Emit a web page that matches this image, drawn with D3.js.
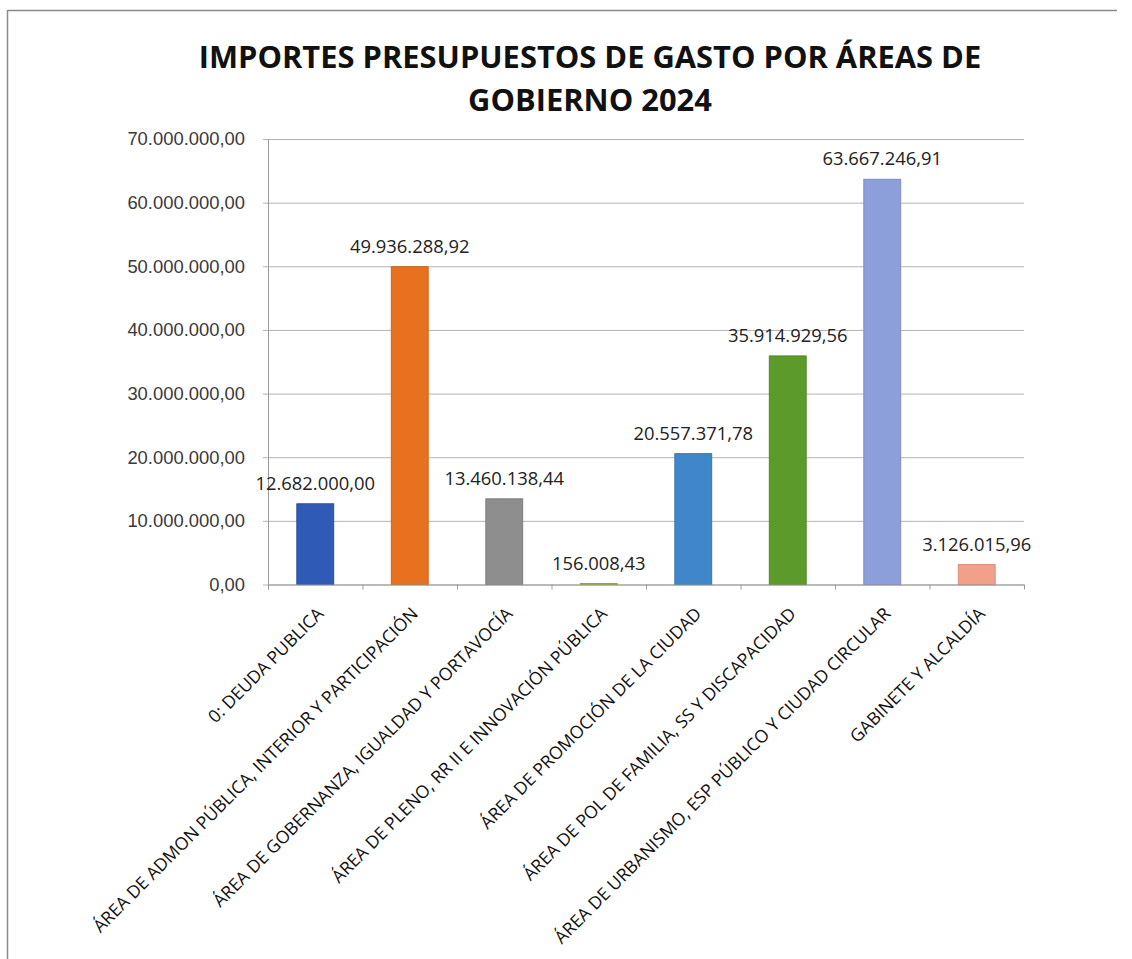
<!DOCTYPE html>
<html lang="es">
<head>
<meta charset="utf-8">
<script src="https://cdn.jsdelivr.net/npm/d3@7"></script>
<style>
  html, body { margin: 0; padding: 0; background: #fff; }
  svg { display: block; font-family: "Open Sans", "DejaVu Sans", sans-serif; }
</style>
</head>
<body>
<svg id="chart" width="1132" height="959"></svg>
<script>
// Budget by government area, 2024 (euros)
const categories = [
  "0: DEUDA PUBLICA",
  "ÁREA DE ADMON PÚBLICA, INTERIOR Y PARTICIPACIÓN",
  "ÁREA DE GOBERNANZA, IGUALDAD Y PORTAVOCÍA",
  "ÁREA DE PLENO, RR II E INNOVACIÓN PÚBLICA",
  "ÁREA DE PROMOCIÓN DE LA CIUDAD",
  "ÁREA DE POL DE FAMILIA, SS Y DISCAPACIDAD",
  "ÁREA DE URBANISMO, ESP PÚBLICO Y CIUDAD CIRCULAR",
  "GABINETE Y ALCALDÍA"
];
const values = [
  12682000.00,
  49936288.92,
  13460138.44,
  156008.43,
  20557371.78,
  35914929.56,
  63667246.91,
  3126015.96
];
const barColors = [
  "#2f5bb7", "#e8711f", "#8e8e8e", "#a4c41c",
  "#3f87c9", "#5c9a2c", "#8c9fdb", "#f3a08b"
];
const yTicks = [0, 10000000, 20000000, 30000000, 40000000, 50000000, 60000000, 70000000];
const titleLines = ["IMPORTES PRESUPUESTOS DE GASTO POR ÁREAS DE", "GOBIERNO 2024"];

const es = d3.formatLocale({ decimal: ",", thousands: ".", grouping: [3], currency: ["", " €"] });
const fmt = es.format(",.2f");

const svg = d3.select("#chart");

// Frame lines
svg.append("line").attr("x1", 7).attr("x2", 1117).attr("y1", 10.5).attr("y2", 10.5)
  .attr("stroke", "#8a8a8a").attr("stroke-width", 1.5);
svg.append("line").attr("x1", 7.5).attr("x2", 7.5).attr("y1", 10).attr("y2", 959)
  .attr("stroke", "#8a8a8a").attr("stroke-width", 1.5);

// Plot area
const plot = { left: 268, right: 1024, top: 139, bottom: 584.5 };

const x = d3.scaleBand()
  .domain(categories)
  .range([plot.left, plot.right])
  .paddingInner(0.61)
  .paddingOuter(0.305);

const y = d3.scaleLinear()
  .domain([0, 70000000])
  .range([plot.bottom, plot.top]);

// Title
const title = svg.append("g").attr("class", "title");
const titleBaselines = [68, 111];
const titleText = title.selectAll("text")
  .data(titleLines)
  .join("text")
  .attr("x", 590)
  .attr("y", (d, i) => titleBaselines[i])
  .attr("text-anchor", "middle")
  .attr("font-weight", 700)
  .attr("font-size", 30)
  .attr("fill", "#111")
  .text(d => d);
// scale the title so the first line spans the chart header width
const w0 = titleText.nodes()[0].getComputedTextLength();
titleText.attr("font-size", 30 * 783 / w0);

// Horizontal gridlines + y axis
const yAxis = d3.axisLeft(y)
  .tickValues(yTicks)
  .tickFormat(fmt)
  .tickSize(plot.right - plot.left + 5)
  .tickPadding(18);

const gy = svg.append("g")
  .attr("transform", `translate(${plot.right},0)`)
  .call(yAxis);
gy.select(".domain").remove();
gy.selectAll(".tick line").attr("stroke", "#b3b3b3").attr("stroke-width", 1);
gy.selectAll(".tick text")
  .attr("font-size", 18.4)
  .attr("fill", "#3a3a3a")
  .attr("x", -(plot.right - plot.left) - 23);

// Vertical axis line
svg.append("line")
  .attr("x1", plot.left + 0.5).attr("x2", plot.left + 0.5)
  .attr("y1", plot.top).attr("y2", plot.bottom + 5)
  .attr("stroke", "#9a9a9a");

// Bars
svg.append("g").selectAll("rect")
  .data(values)
  .join("rect")
  .attr("x", (d, i) => x(categories[i]))
  .attr("width", x.bandwidth())
  .attr("y", d => y(d))
  .attr("height", d => y(0) - y(d))
  .attr("fill", (d, i) => barColors[i])
  .attr("stroke", (d, i) => d3.color(barColors[i]).darker(0.35))
  .attr("stroke-width", 1);

// Category axis along the baseline with boundary ticks
svg.append("line")
  .attr("x1", plot.left).attr("x2", plot.right)
  .attr("y1", plot.bottom + 0.5).attr("y2", plot.bottom + 0.5)
  .attr("stroke", "#9a9a9a");
const step = x.step();
svg.append("g").selectAll("line")
  .data(d3.range(categories.length + 1))
  .join("line")
  .attr("x1", i => plot.left + i * step + 0.5)
  .attr("x2", i => plot.left + i * step + 0.5)
  .attr("y1", plot.bottom)
  .attr("y2", plot.bottom + 5)
  .attr("stroke", "#9a9a9a");

// Value labels
svg.append("g").selectAll("text")
  .data(values)
  .join("text")
  .attr("x", (d, i) => x(categories[i]) + x.bandwidth() / 2)
  .attr("y", d => y(d) - 14)
  .attr("text-anchor", "middle")
  .attr("font-size", 18.4)
  .attr("fill", "#222")
  .text(d => fmt(d));

// Rotated category labels
svg.append("g").selectAll("text")
  .data(categories)
  .join("text")
  .attr("transform", d => `translate(${x(d) + x.bandwidth() / 2 + 5},${plot.bottom + 26}) rotate(-45)`)
  .attr("text-anchor", "end")
  .attr("dy", "0.35em")
  .attr("font-size", 17.6)
  .attr("fill", "#111")
  .text(d => d);
</script>
</body>
</html>
